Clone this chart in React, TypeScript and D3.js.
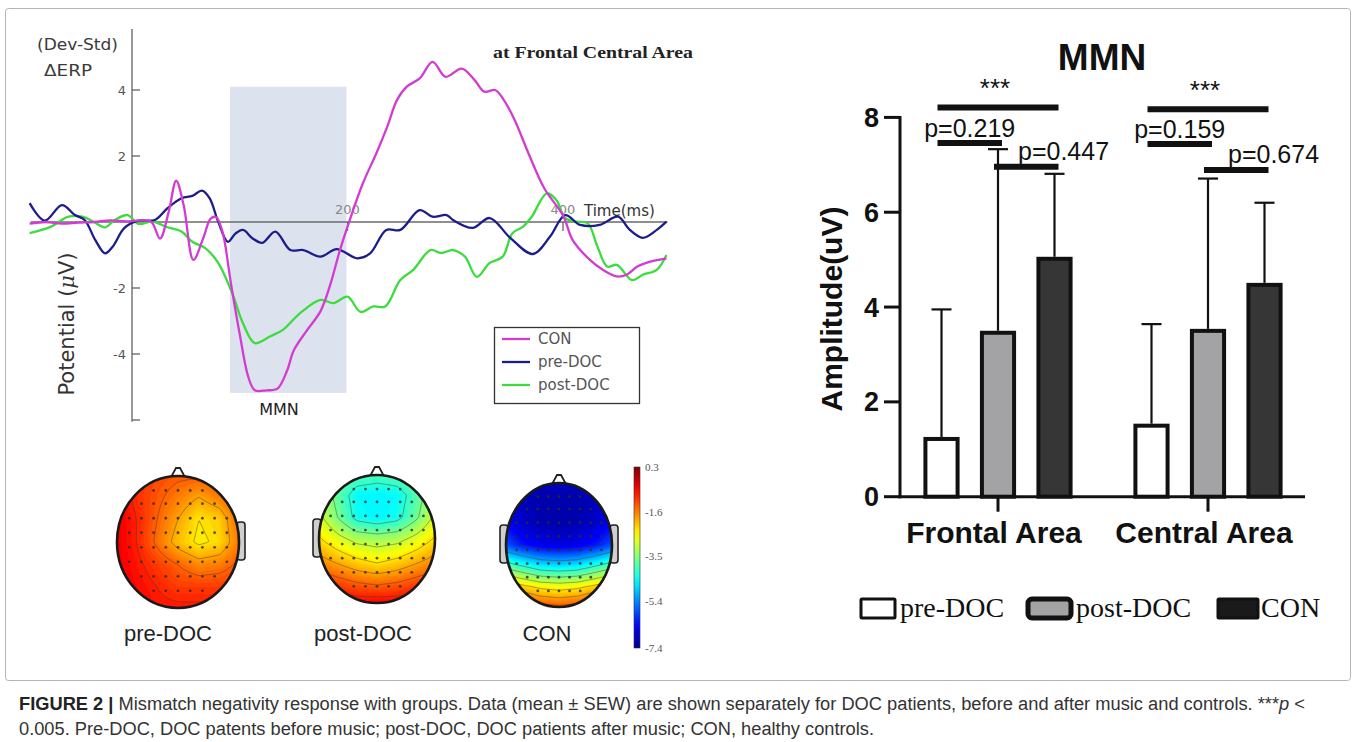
import React, { useEffect, useRef } from "react";
import * as d3 from "d3";

const width = 1357;
const height = 742;

// ---- ERP difference waves: [time ms, amplitude uV] ----
const conWave = [
  [-95, -0.05], [-80, 0.0], [-65, -0.05], [-50, -0.02], [-35, 0.0], [-20, 0.05], [-5, 0.02], [8, 0.05],
  [18, 0.0], [26, -0.5], [34, 0.3], [41, 1.25], [48, 0.5], [57, -1.15], [66, -0.5], [73, 0.1], [78, 0.15],
  [84, -0.3], [92, -1.9], [100, -3.4], [108, -4.7], [114, -5.1], [125, -5.1], [135, -5.05], [144, -4.5],
  [150, -3.9], [162, -3.3], [175, -2.7], [184, -1.9], [193, -0.85], [202, 0.05], [214, 1.15], [227, 2.1],
  [237, 2.9], [246, 3.7], [255, 4.1], [267, 4.35], [279, 4.85], [291, 4.4], [306, 4.65], [318, 4.3],
  [327, 3.95], [337, 4.0], [345, 3.7], [355, 3.1], [369, 2.0], [383, 1.0], [400, 0.2], [409, -0.55],
  [425, -1.15], [437, -1.45], [450, -1.65], [459, -1.6], [469, -1.35], [481, -1.2], [496, -1.1],
];
const preWave = [
  [-95, 0.57], [-81, 0.04], [-65, 0.51], [-53, 0.21], [-44, 0.06], [-34, -0.55], [-25, -0.95], [-18, -0.75],
  [-7, -0.18], [6, 0.04], [21, 0.06], [33, 0.42], [46, 0.72], [56, 0.79], [65, 0.95], [72, 0.72], [80, 0.01],
  [89, -0.6], [96, -0.35], [103, -0.24], [112, -0.5], [121, -0.63], [133, -0.29], [147, -0.85], [159, -0.85],
  [175, -1.05], [190, -0.82], [209, -1.1], [221, -0.95], [236, -0.24], [249, -0.24], [267, 0.36], [279, 0.16],
  [292, 0.21], [298, 0.06], [316, -0.18], [332, 0.12], [351, -0.48], [372, -0.97], [388, -0.44], [402, 0.21],
  [416, -0.09], [434, -0.09], [451, 0.16], [462, -0.24], [474, -0.48], [487, -0.24], [496, 0.01],
];
const postWave = [
  [-95, -0.34], [-75, -0.14], [-59, 0.16], [-46, 0.16], [-36, 0.01], [-25, -0.16], [-16, 0.06], [-4, 0.21],
  [6, -0.06], [19, 0.01], [33, -0.16], [46, -0.29], [56, -0.6], [68, -0.79], [80, -1.24], [93, -2.16],
  [103, -3.07], [114, -3.67], [128, -3.47], [140, -3.27], [156, -2.76], [175, -2.36], [187, -2.46],
  [200, -2.26], [212, -2.72], [224, -2.56], [235, -2.56], [249, -1.76], [261, -1.45], [277, -0.85],
  [287, -0.94], [298, -0.85], [309, -1.05], [320, -1.66], [332, -1.24], [344, -1.05], [353, -0.34],
  [363, -0.14], [371, 0.16], [385, 0.87], [394, 0.66], [402, 0.12], [413, 0.01], [423, -0.04], [432, -0.75],
  [441, -1.35], [450, -1.3], [464, -1.76], [474, -1.6], [487, -1.45], [496, -1.0],
];
const erpNames = ["CON", "pre-DOC", "post-DOC"];
const erpColors = ["#d23cd2", "#1c1c8c", "#3ddc3d"];
const erpYTicks = [-6, -4, -2, 2, 4];
const erpXTicks = [200, 400];
const mmnWindow = [91, 199];
const mmnSpan = [-5.18, 4.1];

// ---- topographic maps (rows front -> back, cols left -> right), uV ----
const topoNames = ["pre-DOC", "post-DOC", "CON"];
const topoPre = [
  [-0.8, -1.0, -1.2, -1.3, -1.3, -1.1, -1.0],
  [-0.6, -1.0, -1.3, -1.6, -1.9, -1.6, -1.2],
  [-0.5, -0.9, -1.4, -1.9, -2.4, -2.2, -1.4],
  [-0.5, -0.9, -1.5, -2.1, -2.5, -2.3, -1.5],
  [-0.5, -0.8, -1.1, -1.4, -1.7, -1.6, -1.3],
  [-0.5, -0.7, -0.9, -1.1, -1.1, -1.1, -1.0],
  [-0.5, -0.6, -0.8, -0.8, -0.8, -0.8, -0.8],
];
const topoPost = [
  [-3.0, -3.5, -3.8, -3.9, -3.8, -3.5, -3.0],
  [-3.0, -3.8, -4.5, -4.6, -4.5, -3.9, -3.0],
  [-2.8, -3.6, -4.4, -4.6, -4.4, -3.7, -2.8],
  [-2.3, -2.8, -3.2, -3.3, -3.2, -2.8, -2.3],
  [-1.7, -2.0, -2.3, -2.5, -2.3, -2.0, -1.7],
  [-1.0, -1.2, -1.4, -1.5, -1.4, -1.2, -1.0],
  [-0.4, -0.5, -0.6, -0.6, -0.6, -0.5, -0.4],
];
const topoCon = [
  [-6.5, -6.8, -7.0, -7.0, -7.0, -6.8, -6.5],
  [-6.6, -7.0, -7.2, -7.2, -7.2, -7.0, -6.6],
  [-6.4, -6.9, -7.1, -7.2, -7.1, -6.9, -6.4],
  [-5.8, -6.3, -6.6, -6.7, -6.6, -6.3, -5.8],
  [-3.8, -4.2, -4.6, -4.7, -4.6, -4.2, -3.8],
  [-1.8, -2.2, -2.5, -2.6, -2.5, -2.2, -1.8],
  [-0.5, -0.8, -1.1, -1.2, -1.1, -0.8, -0.5],
];
const colorbarTicks = [0.3, -1.6, -3.5, -5.4, -7.4];

// ---- MMN amplitude bars ----
const barGroups = ["Frontal Area", "Central Area"];
const barSeries = ["pre-DOC", "post-DOC", "CON"];
const frontalMean = [1.26, 3.5, 5.06];
const frontalUpper = [3.95, 7.33, 6.81];
const centralMean = [1.54, 3.54, 4.51];
const centralUpper = [3.64, 6.71, 6.2];
const barYTicks = [0, 2, 4, 6, 8];
const barFills = ["#ffffff", "#a3a3a6", "#363636"];
const sigBrackets = [
  { group: "Frontal Area", from: 0, to: 2, y: 8.21, label: "***" },
  { group: "Frontal Area", from: 0, to: 1, y: 7.46, label: "p=0.219" },
  { group: "Frontal Area", from: 1, to: 2, y: 6.96, label: "p=0.447" },
  { group: "Central Area", from: 0, to: 2, y: 8.17, label: "***" },
  { group: "Central Area", from: 0, to: 1, y: 7.44, label: "p=0.159" },
  { group: "Central Area", from: 1, to: 2, y: 6.89, label: "p=0.674" },
];

const jet = d3
  .scaleLinear<string>()
  .domain([0, 0.125, 0.375, 0.5, 0.625, 0.875, 1])
  .range(["#00008f", "#0000ff", "#00ffff", "#80ff80", "#ffff00", "#ff0000", "#800000"]);
const topoColor = (v) => jet((v + 7.4) / 7.7);

function drawHead(g, grid, cx, cy, rx, ry, ears, id) {
  const nx = 80;
  const ny = 90;
  const R = grid.length;
  const C = grid[0].length;
  const vals = new Array(nx * ny);
  for (let j = 0; j < ny; j++) {
    for (let i = 0; i < nx; i++) {
      const u = (i / (nx - 1)) * (C - 1);
      const v = (j / (ny - 1)) * (R - 1);
      const i0 = Math.min(Math.floor(u), C - 2);
      const j0 = Math.min(Math.floor(v), R - 2);
      const fu = u - i0;
      const fv = v - j0;
      vals[j * nx + i] =
        (1 - fv) * ((1 - fu) * grid[j0][i0] + fu * grid[j0][i0 + 1]) +
        fv * ((1 - fu) * grid[j0 + 1][i0] + fu * grid[j0 + 1][i0 + 1]);
    }
  }
  const x0 = cx - rx - 2;
  const y0 = cy - ry - 2;
  const sx = (2 * rx + 4) / nx;
  const sy = (2 * ry + 4) / ny;
  const proj = d3.geoTransform({
    point: function (x, y) {
      this.stream.point(x0 + x * sx, y0 + y * sy);
    },
  });
  const path = d3.geoPath(proj);

  g.append("clipPath")
    .attr("id", id)
    .append("ellipse")
    .attr("cx", cx)
    .attr("cy", cy)
    .attr("rx", rx)
    .attr("ry", ry);

  // ears and nose sit behind the scalp
  ears.forEach((side) => {
    const ex = side === "l" ? cx - rx - 6 : cx + rx - 2;
    g.append("rect")
      .attr("x", ex)
      .attr("y", cy - 20)
      .attr("width", 8)
      .attr("height", 38)
      .attr("rx", 3)
      .attr("fill", "#cfcfcf")
      .attr("stroke", "#222")
      .attr("stroke-width", 1.6);
  });
  g.append("path")
    .attr("d", `M${cx - 8},${cy - ry + 3} L${cx - 2},${cy - ry - 8} L${cx + 2},${cy - ry - 8} L${cx + 8},${cy - ry + 3}`)
    .attr("fill", "#fff")
    .attr("stroke", "#222")
    .attr("stroke-width", 1.8);

  const body = g.append("g").attr("clip-path", `url(#${id})`);
  const fills = d3.contours().size([nx, ny]).thresholds(d3.range(-7.4, 0.35, 0.1))(vals);
  body
    .selectAll("path.fill")
    .data(fills)
    .join("path")
    .attr("d", path)
    .attr("fill", (d) => topoColor(d.value + 0.05));
  const lines = d3
    .contours()
    .size([nx, ny])
    .thresholds([-6.2, -5.2, -4.2, -3.6, -3.0, -2.4, -1.9, -1.4, -0.9])(vals);
  body
    .selectAll("path.iso")
    .data(lines)
    .join("path")
    .attr("d", path)
    .attr("fill", "none")
    .attr("stroke", "#4a3a20")
    .attr("stroke-opacity", 0.5)
    .attr("stroke-width", 0.9);

  // electrode positions
  const rows = [-0.78, -0.58, -0.36, -0.14, 0.08, 0.3, 0.52, 0.74];
  rows.forEach((ry0) => {
    const w = Math.sqrt(1 - ry0 * ry0) * 0.86;
    for (let xr = -Math.floor(w / 0.2) * 0.2; xr <= w + 1e-6; xr += 0.2) {
      body
        .append("circle")
        .attr("cx", cx + xr * rx)
        .attr("cy", cy + ry0 * ry)
        .attr("r", 1.4)
        .attr("fill", "#2a2a2a")
        .attr("opacity", 0.8);
    }
  });

  g.append("ellipse")
    .attr("cx", cx)
    .attr("cy", cy)
    .attr("rx", rx)
    .attr("ry", ry)
    .attr("fill", "none")
    .attr("stroke", "#1a1a1a")
    .attr("stroke-width", 2.6);
}

const App = () => {
  const ref = useRef(null);

  useEffect(() => {
    const svg = d3.select(ref.current);
    svg.selectAll("*").remove();

    svg.append("rect").attr("width", width).attr("height", height).attr("fill", "#fff");
    svg.append("rect")
      .attr("x", 5.5)
      .attr("y", 8.5)
      .attr("width", 1345)
      .attr("height", 672)
      .attr("rx", 3)
      .attr("fill", "none")
      .attr("stroke", "#b5b5b5");

    // ================= ERP panel =================
    const xE = d3.scaleLinear().domain([-100, 500]).range([24.25, 670.75]);
    const yE = d3.scaleLinear().domain([-6, 6]).range([420, 24]);
    const erp = svg.append("g").attr("font-family", "'DejaVu Sans', Verdana, sans-serif");

    erp.append("rect")
      .attr("x", xE(mmnWindow[0]))
      .attr("y", yE(mmnSpan[1]))
      .attr("width", xE(mmnWindow[1]) - xE(mmnWindow[0]))
      .attr("height", yE(mmnSpan[0]) - yE(mmnSpan[1]))
      .attr("fill", "#dde3ee");

    erp.append("line")
      .attr("x1", xE(0)).attr("x2", xE(0))
      .attr("y1", yE(5.85)).attr("y2", yE(-6.05))
      .attr("stroke", "#555").attr("stroke-width", 1.2);
    erpYTicks.forEach((t) => {
      erp.append("line")
        .attr("x1", xE(0)).attr("x2", xE(0) + 8)
        .attr("y1", yE(t)).attr("y2", yE(t))
        .attr("stroke", "#555").attr("stroke-width", 1.2);
      if (t !== -6)
        erp.append("text")
          .attr("x", xE(0) - 6).attr("y", yE(t) + 4.5)
          .attr("text-anchor", "end").attr("font-size", 13).attr("fill", "#555")
          .text(String(t));
    });

    erp.append("line")
      .attr("x1", xE(-94)).attr("x2", xE(497))
      .attr("y1", yE(0)).attr("y2", yE(0))
      .attr("stroke", "#6a6a6a").attr("stroke-width", 1.3);
    erpXTicks.forEach((t) => {
      erp.append("line")
        .attr("x1", xE(t)).attr("x2", xE(t))
        .attr("y1", yE(0)).attr("y2", yE(0) + 9)
        .attr("stroke", "#555").attr("stroke-width", 1.2);
      erp.append("text")
        .attr("x", xE(t)).attr("y", yE(0) - 8)
        .attr("text-anchor", "middle").attr("font-size", 13).attr("fill", "#888")
        .text(String(t));
    });
    erp.append("text")
      .attr("x", 584).attr("y", 216)
      .attr("font-size", 15).attr("fill", "#333")
      .text("Time(ms)");

    const wave = d3
      .line()
      .x((d) => xE(d[0]))
      .y((d) => yE(d[1]))
      .curve(d3.curveCatmullRom.alpha(0.5));
    const waves = [conWave, preWave, postWave];
    [2, 1, 0].forEach((i) => {
      erp.append("path")
        .datum(waves[i])
        .attr("fill", "none")
        .attr("stroke", erpColors[i])
        .attr("stroke-width", 2.3)
        .attr("stroke-linejoin", "round")
        .attr("d", wave);
    });

    erp.append("text").attr("x", 37).attr("y", 50).attr("font-size", 15).attr("fill", "#3a3a3a")
      .attr("textLength", 81).attr("lengthAdjust", "spacingAndGlyphs").text("(Dev-Std)");
    erp.append("text").attr("x", 44).attr("y", 76).attr("font-size", 15).attr("fill", "#3a3a3a")
      .attr("textLength", 48).attr("lengthAdjust", "spacingAndGlyphs").text("\u0394ERP");
    erp.append("text")
      .attr("x", 493).attr("y", 58)
      .attr("font-family", "'Liberation Serif', 'Times New Roman', serif")
      .attr("font-weight", "bold").attr("font-size", 16).attr("fill", "#222")
      .attr("textLength", 200).attr("lengthAdjust", "spacingAndGlyphs")
      .text("at Frontal Central Area");
    erp.append("text")
      .attr("x", 279).attr("y", 415)
      .attr("text-anchor", "middle").attr("font-size", 16).attr("fill", "#222")
      .text("MMN");

    const pot = erp.append("text")
      .attr("transform", "translate(74,324) rotate(-90)")
      .attr("text-anchor", "middle").attr("font-size", 21).attr("fill", "#333");
    pot.append("tspan").text("Potential (");
    pot.append("tspan").attr("font-style", "italic").attr("font-family", "'DejaVu Serif', serif").text("\u03bc");
    pot.append("tspan").text("V)");

    const leg = erp.append("g");
    leg.append("rect")
      .attr("x", 494.5).attr("y", 327.5).attr("width", 145).attr("height", 76)
      .attr("fill", "#fff").attr("stroke", "#333").attr("stroke-width", 1.3);
    erpNames.forEach((n, i) => {
      const y = 339 + i * 23;
      leg.append("line")
        .attr("x1", 502).attr("x2", 530).attr("y1", y).attr("y2", y)
        .attr("stroke", erpColors[i]).attr("stroke-width", 2.3);
      leg.append("text")
        .attr("x", 538).attr("y", y + 5)
        .attr("font-size", 15).attr("fill", "#555")
        .text(n);
    });

    // ================= topographies =================
    const topo = svg.append("g");
    const heads = [
      { grid: topoPre, cx: 178, cy: 542, rx: 61, ry: 66, ears: ["r"], lx: 168 },
      { grid: topoPost, cx: 377, cy: 539, rx: 58, ry: 64, ears: ["l"], lx: 363 },
      { grid: topoCon, cx: 559, cy: 545, rx: 53, ry: 62, ears: ["l", "r"], lx: 547 },
    ];
    heads.forEach((h, i) => {
      drawHead(topo.append("g"), h.grid, h.cx, h.cy, h.rx, h.ry, h.ears, `head${i}`);
      topo.append("text")
        .attr("x", h.lx).attr("y", 641)
        .attr("text-anchor", "middle")
        .attr("font-family", "'Liberation Sans', Arial, sans-serif")
        .attr("font-size", 22).attr("fill", "#222")
        .text(topoNames[i]);
    });

    const cbY = d3.scaleLinear().domain([0.3, -7.4]).range([467, 648]);
    const grad = svg.append("defs").append("linearGradient")
      .attr("id", "jetbar").attr("x1", 0).attr("y1", 0).attr("x2", 0).attr("y2", 1);
    d3.range(0, 1.0001, 0.05).forEach((s) => {
      grad.append("stop")
        .attr("offset", s)
        .attr("stop-color", topoColor(0.3 - s * 7.7));
    });
    topo.append("rect")
      .attr("x", 634).attr("y", cbY(0.3)).attr("width", 6).attr("height", cbY(-7.4) - cbY(0.3))
      .attr("fill", "url(#jetbar)").attr("stroke", "#333").attr("stroke-width", 0.6);
    colorbarTicks.forEach((t) => {
      topo.append("text")
        .attr("x", 645).attr("y", cbY(t) + 4)
        .attr("font-family", "'Liberation Serif', serif")
        .attr("font-size", 11).attr("fill", "#555")
        .text(t.toFixed(1));
    });

    // ================= MMN bar chart =================
    const bar = svg.append("g").attr("font-family", "'Liberation Sans', Arial, sans-serif");
    const yB = d3.scaleLinear().domain([0, 8]).range([496.7, 117.4]);
    const xG = d3.scaleBand().domain(barGroups).range([893, 1313]);
    const xS = d3.scaleBand().domain(barSeries).range([20.25, 189.75]).paddingInner(0.36).paddingOuter(0.18);
    const center = (g, i) => xG(g) + xS(barSeries[i]) + xS.bandwidth() / 2;

    const means = [frontalMean, centralMean];
    const uppers = [frontalUpper, centralUpper];
    barGroups.forEach((g, gi) => {
      barSeries.forEach((s, si) => {
        const cxb = center(g, si);
        const m = means[gi][si];
        const u = uppers[gi][si];
        bar.append("line")
          .attr("x1", cxb).attr("x2", cxb).attr("y1", yB(m)).attr("y2", yB(u))
          .attr("stroke", "#111").attr("stroke-width", 2.2);
        bar.append("line")
          .attr("x1", cxb - 10).attr("x2", cxb + 10).attr("y1", yB(u)).attr("y2", yB(u))
          .attr("stroke", "#111").attr("stroke-width", 2.2);
        bar.append("rect")
          .attr("x", xG(g) + xS(s) + 2)
          .attr("y", yB(m) + 2)
          .attr("width", xS.bandwidth() - 4)
          .attr("height", yB(0) - yB(m) - 2)
          .attr("fill", barFills[si])
          .attr("stroke", "#111")
          .attr("stroke-width", 4);
      });
    });

    // axes
    bar.append("line")
      .attr("x1", 900).attr("x2", 900).attr("y1", yB(8) - 1.5).attr("y2", yB(0) + 1.5)
      .attr("stroke", "#111").attr("stroke-width", 3);
    bar.append("line")
      .attr("x1", 898.5).attr("x2", 1305).attr("y1", yB(0)).attr("y2", yB(0))
      .attr("stroke", "#111").attr("stroke-width", 3);
    barYTicks.forEach((t) => {
      bar.append("line")
        .attr("x1", 884).attr("x2", 900).attr("y1", yB(t)).attr("y2", yB(t))
        .attr("stroke", "#111").attr("stroke-width", 3);
      bar.append("text")
        .attr("x", 879).attr("y", yB(t) + 9.5)
        .attr("text-anchor", "end").attr("font-weight", "bold").attr("font-size", 27).attr("fill", "#111")
        .text(String(t));
    });
    barGroups.forEach((g) => {
      const cxg = xG(g) + xG.bandwidth() / 2;
      bar.append("line")
        .attr("x1", cxg).attr("x2", cxg).attr("y1", yB(0)).attr("y2", yB(0) + 15)
        .attr("stroke", "#111").attr("stroke-width", 3);
      bar.append("text")
        .attr("x", cxg - 4).attr("y", 543)
        .attr("text-anchor", "middle").attr("font-weight", "bold").attr("font-size", 30).attr("fill", "#111")
        .text(g);
    });

    bar.append("text")
      .attr("transform", `translate(842,${(yB(0) + yB(8)) / 2 + 2}) rotate(-90)`)
      .attr("text-anchor", "middle").attr("font-weight", "bold").attr("font-size", 30).attr("fill", "#111")
      .text("Amplitude(uV)");
    bar.append("text")
      .attr("x", 1102).attr("y", 70)
      .attr("text-anchor", "middle").attr("font-weight", "bold").attr("font-size", 37).attr("fill", "#111")
      .text("MMN");

    sigBrackets.forEach((b) => {
      const xa = center(b.group, b.from) - 4;
      const xb = center(b.group, b.to) + 4;
      const y = yB(b.y);
      bar.append("line")
        .attr("x1", xa).attr("x2", xb).attr("y1", y).attr("y2", y)
        .attr("stroke", "#111").attr("stroke-width", 6);
      if (b.label === "***") {
        bar.append("text")
          .attr("x", (xa + xb) / 2 - 3).attr("y", y - 10)
          .attr("text-anchor", "middle").attr("font-size", 26).attr("fill", "#111")
          .text(b.label);
      } else if (b.from === 0) {
        bar.append("text")
          .attr("x", (xa + xb) / 2).attr("y", y - 6)
          .attr("text-anchor", "middle").attr("font-size", 25).attr("fill", "#111")
          .text(b.label);
      } else {
        bar.append("text")
          .attr("x", xa + 24).attr("y", y - 7)
          .attr("font-size", 25).attr("fill", "#111")
          .text(b.label);
      }
    });

    // legend
    const lg = svg.append("g").attr("font-family", "'Liberation Serif', 'Times New Roman', serif");
    const legBoxes = [
      { x: 861, w: 34, sw: 3 },
      { x: 1028, w: 43, sw: 5 },
      { x: 1218, w: 40, sw: 3 },
    ];
    const legText = [900, 1076, 1261];
    barSeries.forEach((s, i) => {
      lg.append("rect")
        .attr("x", legBoxes[i].x).attr("y", 599).attr("width", legBoxes[i].w).attr("height", 19)
        .attr("rx", i === 1 ? 4 : 1)
        .attr("fill", i === 2 ? "#1a1a1a" : barFills[i])
        .attr("stroke", "#111").attr("stroke-width", legBoxes[i].sw);
      lg.append("text")
        .attr("x", legText[i]).attr("y", 617)
        .attr("font-size", 28).attr("fill", "#111")
        .text(s);
    });

    // ================= caption =================
    const cap = svg.append("g")
      .attr("font-family", "'Liberation Sans', Arial, sans-serif")
      .attr("font-size", 18).attr("fill", "#333");
    const l1 = cap.append("text")
      .attr("x", 19).attr("y", 710)
      .attr("textLength", 1286).attr("lengthAdjust", "spacingAndGlyphs");
    l1.append("tspan").attr("font-weight", "bold").attr("fill", "#222").text("FIGURE 2 | ");
    l1.append("tspan").text("Mismatch negativity response with groups. Data (mean \u00b1 SEW) are shown separately for DOC patients, before and after music and controls. ***");
    l1.append("tspan").attr("font-style", "italic").text("p");
    l1.append("tspan").text(" <");
    cap.append("text")
      .attr("x", 19).attr("y", 735)
      .attr("textLength", 855).attr("lengthAdjust", "spacingAndGlyphs")
      .text("0.005. Pre-DOC, DOC patents before music; post-DOC, DOC patients after music; CON, healthy controls.");
  }, []);

  return (
    <svg
      ref={ref}
      width={width}
      height={height}
      style={{ position: "absolute", left: 0, top: 0, display: "block" }}
    />
  );
};

export default App;
